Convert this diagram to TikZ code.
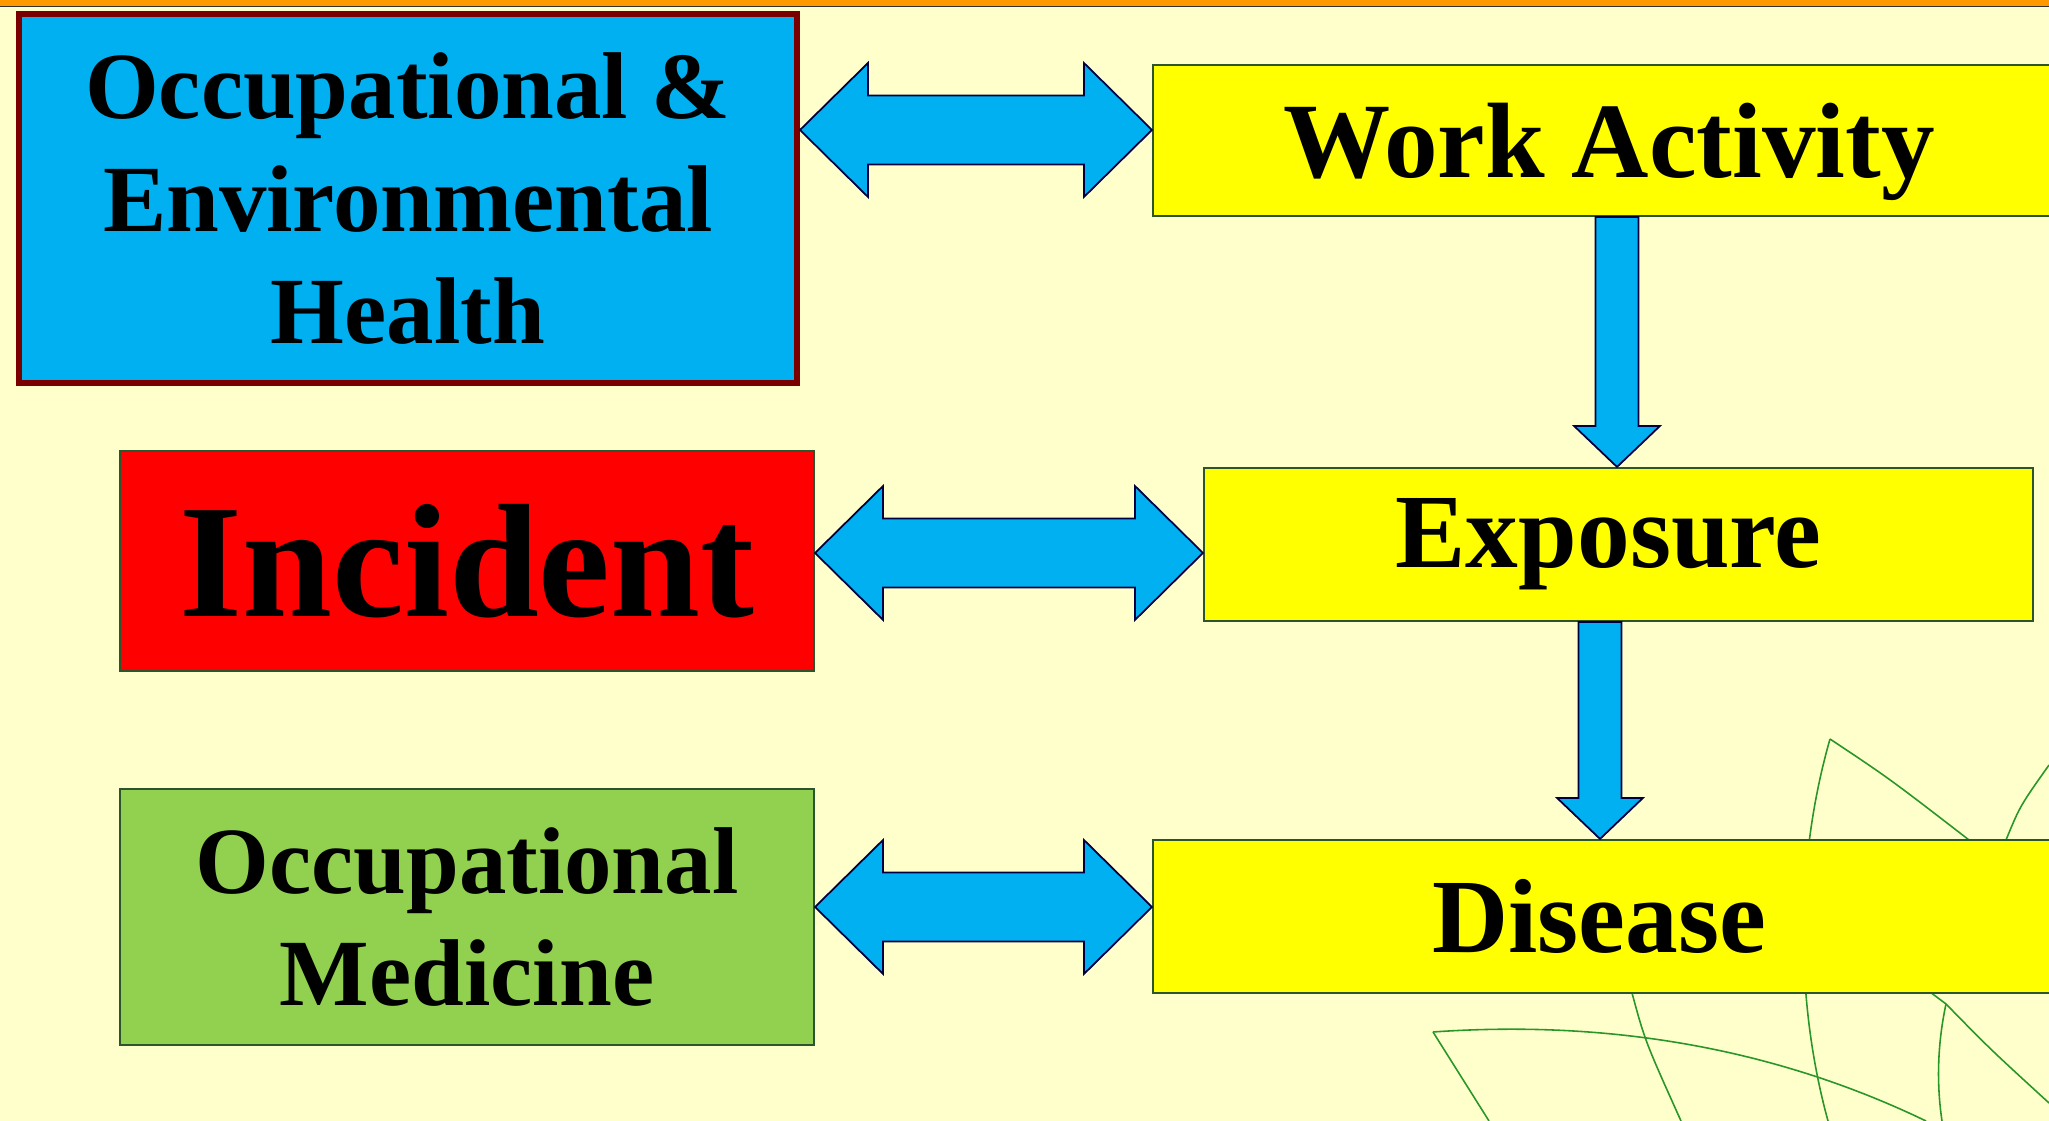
\documentclass[tikz,border=0pt]{standalone}
\usepackage{fontspec}
\setmainfont{Liberation Serif}
\usepackage{tikz}
\usetikzlibrary{calc,positioning}
\usepackage{xcolor}
\definecolor{cream}{RGB}{255,255,204}
\definecolor{skyblue}{RGB}{0,176,240}
\definecolor{leafgreen}{RGB}{146,208,80}
\definecolor{boxyellow}{RGB}{255,255,0}
\definecolor{boxred}{RGB}{255,0,0}
\definecolor{darkmaroon}{RGB}{122,0,0}
\definecolor{edgegreen}{RGB}{45,85,45}
\definecolor{barorange}{RGB}{255,153,0}
\definecolor{petalgreen}{RGB}{40,150,40}
\newcommand{\fsz}[2]{\fontsize{#1}{#2}\selectfont}
% wide two-headed arrow between #1.east and #2.west at height #3
\newcommand{\twoway}[3]{\draw[blockarrow] (#1.east |- 0,#3) -- ++(0.68,0.67) -- ++(0,-0.325)
    -- ($(#2.west |- 0,#3)+(-0.68,0.345)$) -- ++(0,0.325) -- (#2.west |- 0,#3)
    -- ++(-0.68,-0.67) -- ++(0,0.325) -- ($(#1.east |- 0,#3)+(0.68,-0.345)$) -- ++(0,-0.325) -- cycle;}
% wide downward arrow from #1.south to #2.north at x = #3
\newcommand{\downway}[3]{\draw[blockarrow] ($(#1.south -| #3,0)+(-0.215,0)$)
    -- ($(#2.north -| #3,0)+(-0.215,0.41)$) -- ++(-0.215,0) -- (#2.north -| #3,0)
    -- ++(0.43,0.41) -- ++(-0.215,0) -- ($(#1.south -| #3,0)+(0.215,0)$) -- cycle;}

\begin{document}
\begin{tikzpicture}[
    box/.style={draw=edgegreen,line width=0.6pt,inner sep=0pt,align=center,font=\bfseries},
    blockarrow/.style={fill=skyblue,draw=black!75!blue,line width=0.5pt,line join=miter},
    petal/.style={petalgreen,line width=0.45pt}]
    \fill[cream] (0,0) rectangle (20.49,11.21);
    \clip (0,0) rectangle (20.49,11.21);
    \fill[barorange] (0,11.15) rectangle (20.49,11.21);
    \draw[black!80,line width=0.5pt] (0,11.145) -- (20.49,11.145);
    % leaf outlines behind the boxes
    \draw[petal] (18.30,3.82) .. controls (17.95,2.6) and (17.95,1.2) .. (18.28,0);
    \draw[petal] (18.30,3.82) .. controls (18.9,3.42) .. (19.69,2.81);
    \draw[petal] (20.06,2.81) .. controls (20.2,3.15) .. (20.49,3.56);
    \draw[petal] (14.33,0.89) .. controls (15.9,1.0) and (17.6,0.8) .. (19.26,0);
    \draw[petal] (14.33,0.89) -- (14.89,0);
    \draw[petal] (16.32,1.28) .. controls (16.45,0.8) .. (16.81,0);
    \draw[petal] (19.22,1.35) -- (19.46,1.17) .. controls (19.9,0.72) .. (20.49,0.18);
    \draw[petal] (19.46,1.17) .. controls (19.38,0.8) and (19.36,0.4) .. (19.42,0);
    \node[box,fill=skyblue,draw=darkmaroon,line width=1.7pt,minimum width=7.78cm,minimum height=3.69cm,
        font=\bfseries\fsz{27}{32}] (oeh) at (4.08,9.22) {Occupational \&\\Environmental\\Health};
    \node[box,fill=boxred,minimum width=6.94cm,minimum height=2.20cm,font=\bfseries\fsz{46}{50}]
        (incident) at (4.67,5.60) {Incident};
    \node[box,fill=leafgreen,minimum width=6.94cm,minimum height=2.56cm,font=\bfseries\fsz{27}{32}]
        (medicine) at (4.67,2.04) {Occupational\\Medicine};
    \node[box,fill=boxyellow,minimum width=9.12cm,minimum height=1.51cm,font=\bfseries\fsz{30.5}{32},
        text depth=0pt] (work) at (16.09,9.805) {Work Activity};
    \node[box,fill=boxyellow,minimum width=8.29cm,minimum height=1.53cm,font=\bfseries\fsz{30}{32}]
        (exposure) at (16.185,5.765) {Exposure\hspace*{0.2cm}};
    \node[box,fill=boxyellow,minimum width=9.07cm,minimum height=1.53cm,font=\bfseries\fsz{30}{32}]
        (disease) at (16.065,2.045) {Disease\hspace*{0.15cm}};
    \twoway{oeh}{work}{9.91}
    \twoway{incident}{exposure}{5.68}
    \twoway{medicine}{disease}{2.14}
    \downway{work}{exposure}{16.17}
    \downway{exposure}{disease}{16.00}
\end{tikzpicture}
\end{document}
